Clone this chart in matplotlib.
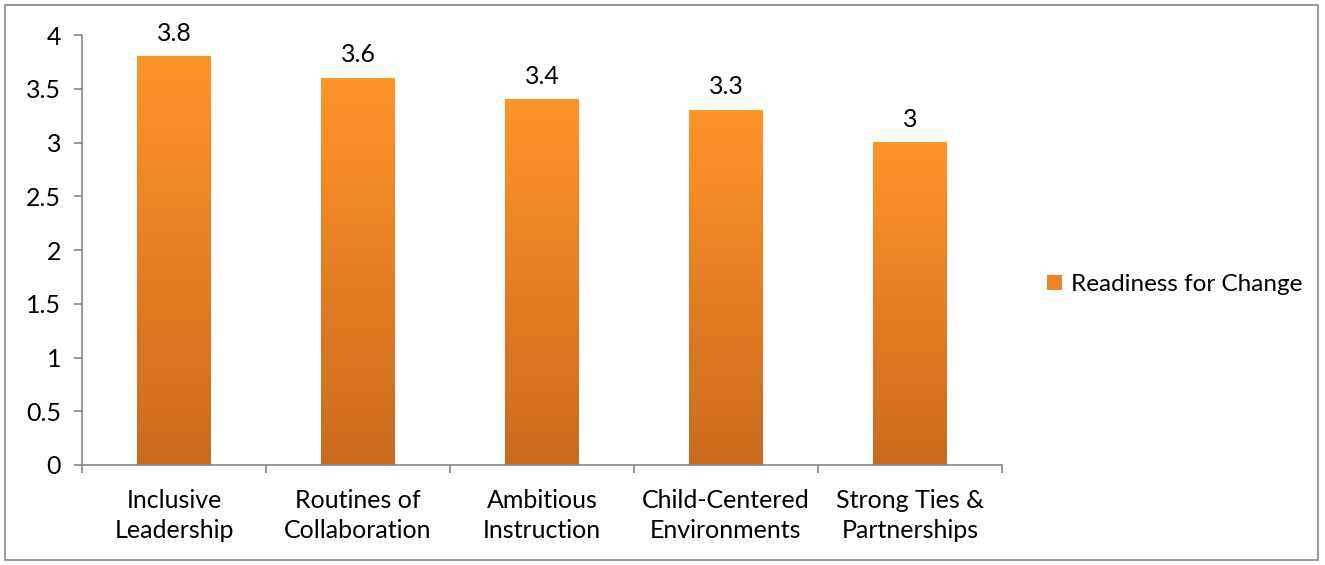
import matplotlib.pyplot as plt
import numpy as np
from matplotlib.colors import LinearSegmentedColormap
from matplotlib.patches import Rectangle, Patch

plt.rcParams["font.family"] = ["Lato", "DejaVu Sans"]

categories = [
    "Inclusive\nLeadership",
    "Routines of\nCollaboration",
    "Ambitious\nInstruction",
    "Child-Centered\nEnvironments",
    "Strong Ties &\nPartnerships",
]
values = [3.8, 3.6, 3.4, 3.3, 3.0]
value_labels = ["3.8", "3.6", "3.4", "3.3", "3"]
series_name = "Readiness for Change"

top_color = "#FF9429"
bottom_color = "#CB6A1E"
axis_color = "#868686"

fig = plt.figure(figsize=(13.25, 5.65), dpi=100)
ax = fig.add_axes([0.0619, 0.177, 0.6943, 0.761])

x = np.arange(len(categories))
bars = ax.bar(x, values, width=0.40, color="none", edgecolor="none", zorder=2)

# vertical orange gradient inside each bar
cmap = LinearSegmentedColormap.from_list("grad", [bottom_color, top_color])
grad = np.linspace(0, 1, 256).reshape(-1, 1)
for b in bars:
    x0, w, h = b.get_x(), b.get_width(), b.get_height()
    ax.imshow(grad, cmap=cmap, origin="lower", aspect="auto",
              extent=[x0, x0 + w, 0, h], zorder=2)

for xi, v, lab in zip(x, values, value_labels):
    ax.text(xi, v + 0.11, lab, ha="center", va="bottom", fontsize=18, color="#000000")

ax.set_xlim(-0.5, len(categories) - 0.5)
ax.set_ylim(0, 4)
ax.set_yticks(np.arange(0, 4.01, 0.5))
ax.set_yticklabels(["0", "0.5", "1", "1.5", "2", "2.5", "3", "3.5", "4"])
ax.set_xticks(x)
ax.set_xticklabels(categories, fontsize=18, linespacing=1.4)
ax.set_xticks(np.arange(-0.5, len(categories)), minor=True)
ax.tick_params(axis="x", which="major", length=0, pad=17)
ax.tick_params(axis="x", which="minor", length=6, color=axis_color, width=1.2)
ax.tick_params(axis="y", length=6, color=axis_color, width=1.2, labelsize=18, pad=9)

for s in ["top", "right"]:
    ax.spines[s].set_visible(False)
for s in ["left", "bottom"]:
    ax.spines[s].set_color(axis_color)
    ax.spines[s].set_linewidth(1.2)

handle = Patch(facecolor="#EE8426", edgecolor="none")
fig.legend([handle], [series_name], loc="center left", bbox_to_anchor=(0.774, 0.496),
           frameon=False, fontsize=17.5, handlelength=0.6, handleheight=0.6,
           handletextpad=0.35)

fig.patches.append(Rectangle((0.004, 0.008), 0.991, 0.984, transform=fig.transFigure,
                             fill=False, edgecolor=axis_color, linewidth=1.2))

fig.savefig("out.png", dpi=100)
